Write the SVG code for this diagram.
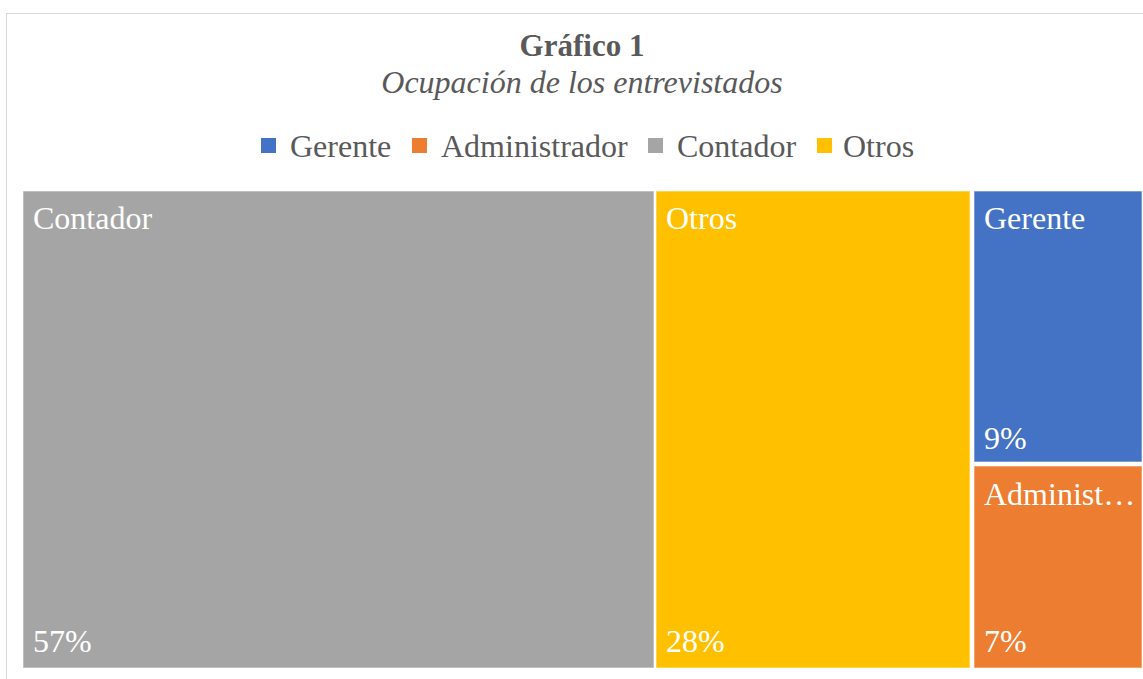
<svg xmlns="http://www.w3.org/2000/svg" width="1143" height="679" viewBox="0 0 1143 679">
<style>
.t{font-family:"Liberation Serif","Times New Roman",serif;fill:#595959}
.lbl{font-family:"Liberation Serif","Times New Roman",serif;fill:#fff;font-size:32px}
.tile{stroke:#fff;stroke-opacity:0.6;stroke-width:1}
</style>
<rect x="0" y="0" width="1143" height="679" fill="#fff"/>
<rect x="6.5" y="13.5" width="1150" height="700" fill="#fff" stroke="#D9D9D9" stroke-width="1"/>
<g id="title">
<text class="t" x="582" y="56" text-anchor="middle" font-size="31" font-weight="bold">Gráfico 1</text>
<text class="t" x="582" y="93" text-anchor="middle" font-size="32" font-style="italic">Ocupación de los entrevistados</text>
</g>
<g id="legend">
<rect x="261" y="138" width="15" height="15" fill="#4472C4"/>
<text class="t" x="290" y="157" font-size="32">Gerente</text>
<rect x="412" y="138" width="15" height="15" fill="#ED7D31"/>
<text class="t" x="441" y="157" font-size="32">Administrador</text>
<rect x="648" y="138" width="15" height="15" fill="#A5A5A5"/>
<text class="t" x="677" y="157" font-size="32">Contador</text>
<rect x="817" y="138" width="15" height="15" fill="#FFC000"/>
<text class="t" x="843" y="157" font-size="32">Otros</text>
</g>
<g id="contador">
<rect class="tile" x="23" y="191" width="631" height="477" fill="#A5A5A5"/>
<text class="lbl" x="33" y="229">Contador</text>
<text class="lbl" x="33" y="652">57%</text>
</g>
<g id="otros">
<rect class="tile" x="656" y="191" width="314" height="477" fill="#FFC000"/>
<text class="lbl" x="666" y="229">Otros</text>
<text class="lbl" x="666" y="652">28%</text>
</g>
<g id="gerente">
<rect class="tile" x="974" y="191" width="168" height="271" fill="#4472C4"/>
<text class="lbl" x="984" y="229">Gerente</text>
<text class="lbl" x="984" y="449">9%</text>
</g>
<g id="administrador">
<rect class="tile" x="974" y="466" width="168" height="202" fill="#ED7D31"/>
<text class="lbl" x="984" y="505">Administ…</text>
<text class="lbl" x="984" y="652">7%</text>
</g>
<g id="connectors"/>
</svg>
